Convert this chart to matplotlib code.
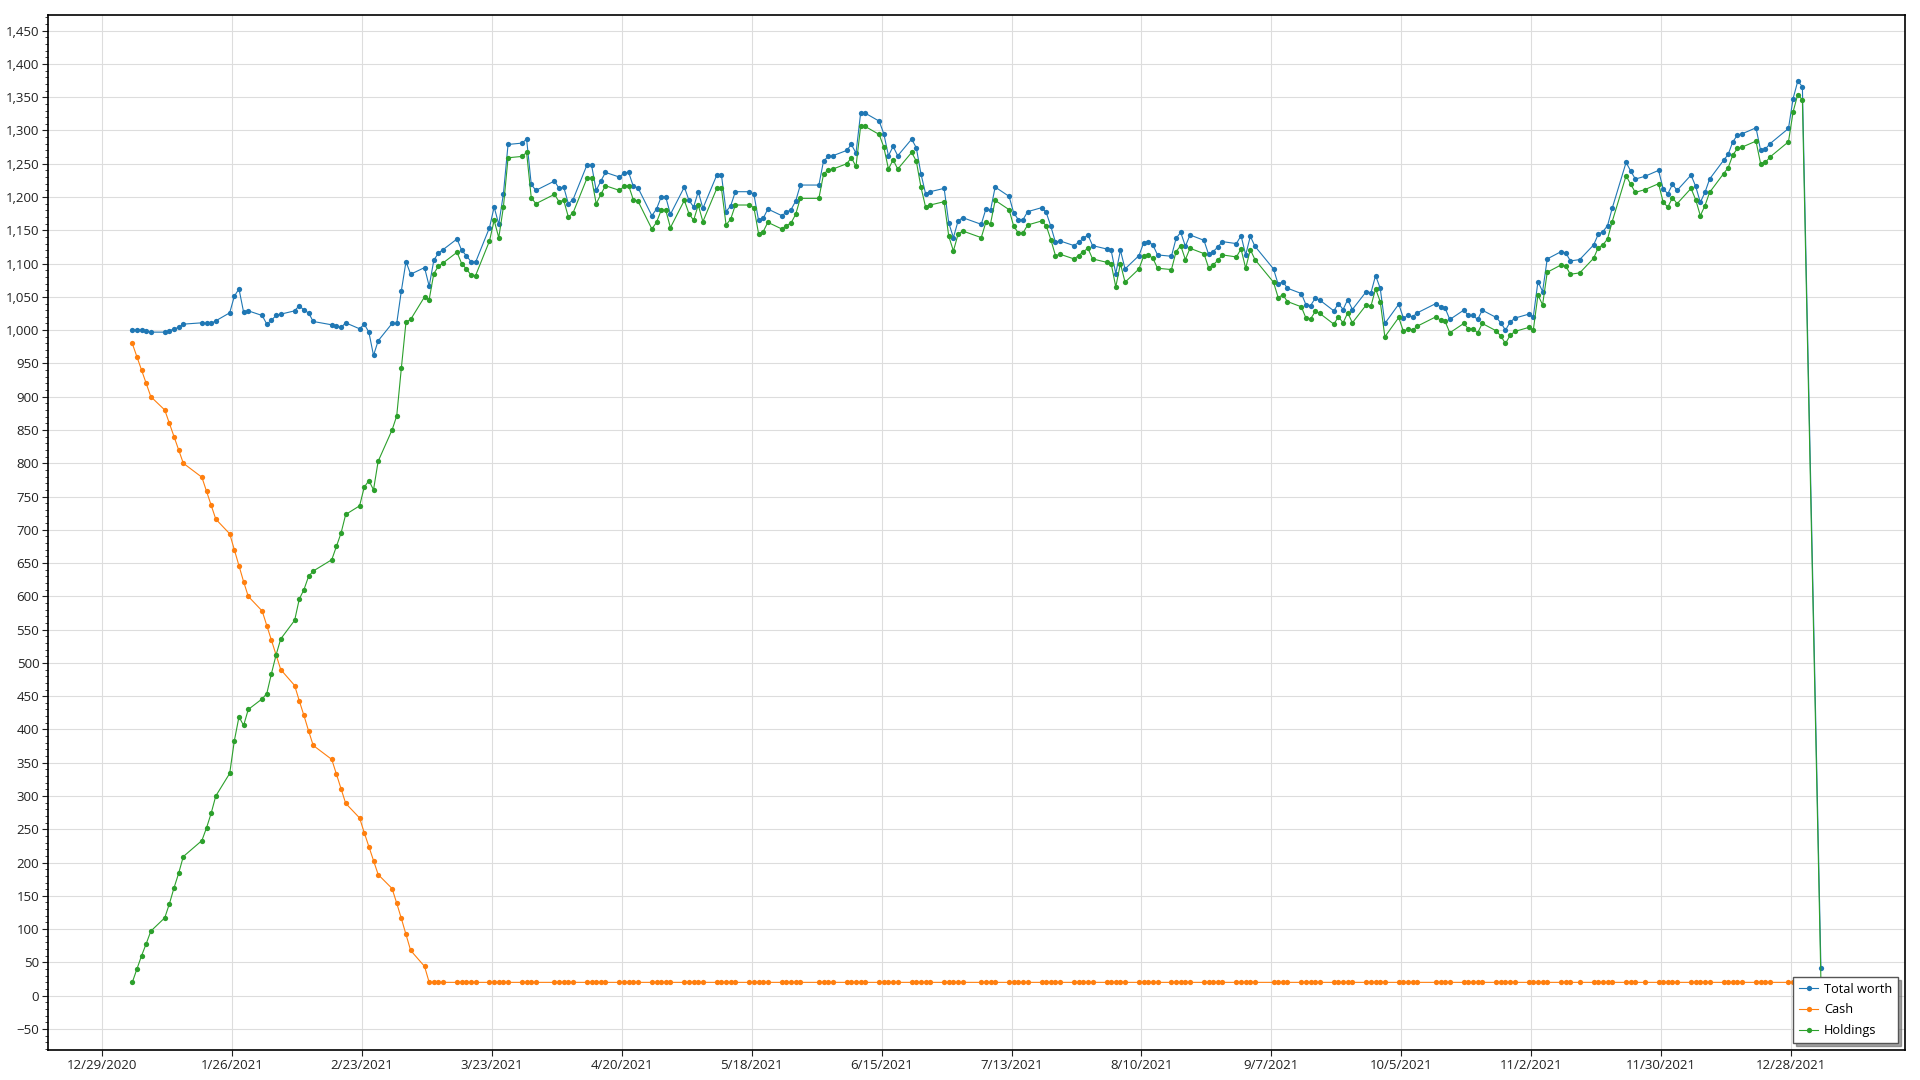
import matplotlib
matplotlib.use("Agg")
import matplotlib.pyplot as plt
import matplotlib.ticker as mticker
import pandas as pd

plt.rcParams['font.family'] = ['Open Sans', 'DejaVu Sans']

# Handelstage (US-Börse + Bank-Feiertage), letzter Punkt am 3.1.2022
holidays = ["2021-01-18", "2021-02-15", "2021-04-02", "2021-05-31", "2021-07-05",
            "2021-09-06", "2021-10-11", "2021-11-11", "2021-11-25", "2021-12-24",
            "2021-12-31"]
dates = pd.bdate_range("2021-01-04", "2022-01-03", freq="C", holidays=holidays)
dates = dates + pd.Timedelta(hours=11)  # Punkte liegen im Original etwas nach Mitternacht

total_worth = [
    # Jan
    1000, 1000, 1000, 998, 997, 997, 999, 1002, 1004, 1009, 1011, 1010, 1010, 1014, 1026, 1051, 1062, 1027, 1029,
    # Feb
    1022, 1009, 1015, 1022, 1024, 1029, 1037, 1030, 1026, 1013, 1008, 1006, 1004, 1011, 1002, 1009, 997, 962, 984,
    # Mar
    1010, 1010, 1059, 1103, 1084, 1094, 1066, 1105, 1116, 1121, 1137, 1120, 1112, 1103, 1102, 1154, 1185, 1159,
    1205, 1279, 1281, 1287, 1219,
    # Apr
    1210, 1224, 1213, 1215, 1190, 1196, 1248, 1248, 1210, 1224, 1237, 1230, 1236, 1237, 1216, 1214, 1172, 1182,
    1200, 1200, 1174,
    # May
    1215, 1195, 1185, 1208, 1183, 1233, 1233, 1178, 1187, 1208, 1208, 1204, 1165, 1168, 1182, 1172, 1177, 1181,
    1194, 1218,
    # Jun
    1218, 1254, 1261, 1262, 1270, 1279, 1266, 1326, 1326, 1314, 1295, 1262, 1276, 1262, 1287, 1274, 1235, 1205,
    1208, 1213, 1161, 1139,
    # Jul
    1164, 1169, 1159, 1182, 1180, 1215, 1201, 1176, 1166, 1166, 1178, 1184, 1177, 1156, 1132, 1134, 1127, 1132,
    1138, 1143, 1127,
    # Aug
    1122, 1120, 1085, 1120, 1092, 1112, 1131, 1133, 1128, 1113, 1111, 1138, 1147, 1126, 1143, 1135, 1114, 1118,
    1125, 1133, 1130, 1142,
    # Sep
    1113, 1141, 1126, 1092, 1069, 1073, 1063, 1055, 1038, 1037, 1048, 1045, 1029, 1040, 1031, 1046, 1031, 1058,
    1056, 1082, 1063,
    # Oct
    1010, 1039, 1018, 1022, 1020, 1026, 1040, 1035, 1033, 1016, 1030, 1022, 1022, 1016, 1030, 1019, 1011, 1000,
    1012, 1018,
    # Nov
    1024, 1020, 1073, 1058, 1107, 1118, 1116, 1104, 1106, 1128, 1144, 1148, 1157, 1183, 1252, 1239, 1227, 1231,
    1240, 1212,
    # Dec
    1205, 1219, 1210, 1233, 1216, 1192, 1207, 1227, 1255, 1264, 1283, 1293, 1295, 1304, 1270, 1272, 1280, 1303,
    1348, 1374, 1366,
    # Jan 2022
    41,
]

cash = [
    980, 960, 940, 920, 900, 880, 860, 840, 820, 800, 779, 758, 737, 716, 694, 670, 646, 622, 600,
    578, 556, 534, 512, 490, 466, 443, 421, 398, 376, 355, 333, 311, 289, 267, 245, 224, 203, 182,
    161, 139, 116, 92, 68, 44,
] + [20] * 206  # ab 9.3. konstant

holdings = [
    # Jan
    20, 40, 60, 78, 97, 117, 138, 162, 184, 209, 233, 252, 274, 300, 334, 383, 419, 406, 430,
    # Feb
    446, 454, 484, 512, 536, 564, 596, 610, 630, 638, 655, 675, 695, 723, 736, 764, 774, 760, 803,
    # Mar
    850, 871, 943, 1012, 1016, 1050, 1046, 1085, 1096, 1101, 1117, 1100, 1092, 1083, 1082, 1134, 1165, 1139,
    1185, 1259, 1261, 1267, 1199,
    # Apr
    1190, 1204, 1193, 1195, 1170, 1176, 1228, 1228, 1190, 1204, 1217, 1210, 1216, 1217, 1196, 1194, 1152, 1162,
    1180, 1180, 1154,
    # May
    1195, 1175, 1165, 1188, 1163, 1213, 1213, 1158, 1167, 1188, 1188, 1184, 1145, 1148, 1162, 1152, 1157, 1161,
    1174, 1198,
    # Jun
    1198, 1234, 1241, 1242, 1250, 1259, 1246, 1306, 1306, 1294, 1275, 1242, 1256, 1242, 1267, 1254, 1215, 1185,
    1188, 1193, 1141, 1119,
    # Jul
    1144, 1149, 1139, 1162, 1160, 1195, 1181, 1156, 1146, 1146, 1158, 1164, 1157, 1136, 1112, 1114, 1107, 1112,
    1118, 1123, 1107,
    # Aug
    1102, 1100, 1065, 1100, 1072, 1092, 1111, 1113, 1108, 1093, 1091, 1118, 1127, 1106, 1123, 1115, 1094, 1098,
    1105, 1113, 1110, 1122,
    # Sep
    1093, 1121, 1106, 1072, 1049, 1053, 1043, 1035, 1018, 1017, 1028, 1025, 1009, 1020, 1011, 1026, 1011, 1038,
    1036, 1062, 1043,
    # Oct
    990, 1019, 998, 1002, 1000, 1006, 1020, 1015, 1013, 996, 1010, 1002, 1002, 996, 1010, 999, 991, 980,
    992, 998,
    # Nov
    1004, 1000, 1053, 1038, 1087, 1098, 1096, 1084, 1086, 1108, 1124, 1128, 1137, 1163, 1232, 1219, 1207, 1211,
    1220, 1192,
    # Dec
    1185, 1199, 1190, 1213, 1196, 1172, 1187, 1207, 1235, 1244, 1263, 1273, 1275, 1284, 1250, 1252, 1260, 1283,
    1328, 1354, 1346,
    # Jan 2022
    21,
]

series = [("Total worth", total_worth, "#1f77b4"),
          ("Cash", cash, "#ff7f0e"),
          ("Holdings", holdings, "#2ca02c")]

x_ticks = pd.date_range("2020-12-29", periods=14, freq="28D")

fig = plt.figure(figsize=(19.2, 10.8), dpi=100)
ax = fig.add_axes([0.0252, 0.0278, 0.967, 0.958])

for name, values, color in series:
    ax.plot(dates, values, color=color, lw=0.8, marker="o", ms=3.8, mew=0, label=name)

ax.set_xlim(pd.Timestamp("2020-12-17 09:00"), pd.Timestamp("2022-01-21 14:00"))
ax.set_ylim(-81.6, 1473)

ax.set_xticks(x_ticks)
ax.set_xticklabels([f"{d.month}/{d.day}/{d.year}" for d in x_ticks])
ax.yaxis.set_major_locator(mticker.MultipleLocator(50))
ax.yaxis.set_minor_locator(mticker.MultipleLocator(10))
ax.yaxis.set_major_formatter(mticker.StrMethodFormatter("{x:,.0f}"))

ax.tick_params(axis="both", which="major", labelsize=9.5, length=4.5, width=0.8, pad=2, colors="#222222")
ax.tick_params(axis="y", which="minor", length=2.2, width=0.6, colors="#222222")
ax.grid(True, which="major", color="#dddddd", lw=0.8)
ax.set_axisbelow(True)
for s in ax.spines.values():
    s.set_color("black")
    s.set_linewidth(1.2)

leg = ax.legend(loc="lower right", bbox_to_anchor=(0.9962, 0.007), borderaxespad=0,
                fancybox=False, shadow=True, framealpha=1, edgecolor="#555555",
                fontsize=9.2, handlelength=1.5, handletextpad=0.45, labelspacing=0.6,
                borderpad=0.45)
leg.get_frame().set_linewidth(1.0)

fig.savefig("out.png", dpi=100)
